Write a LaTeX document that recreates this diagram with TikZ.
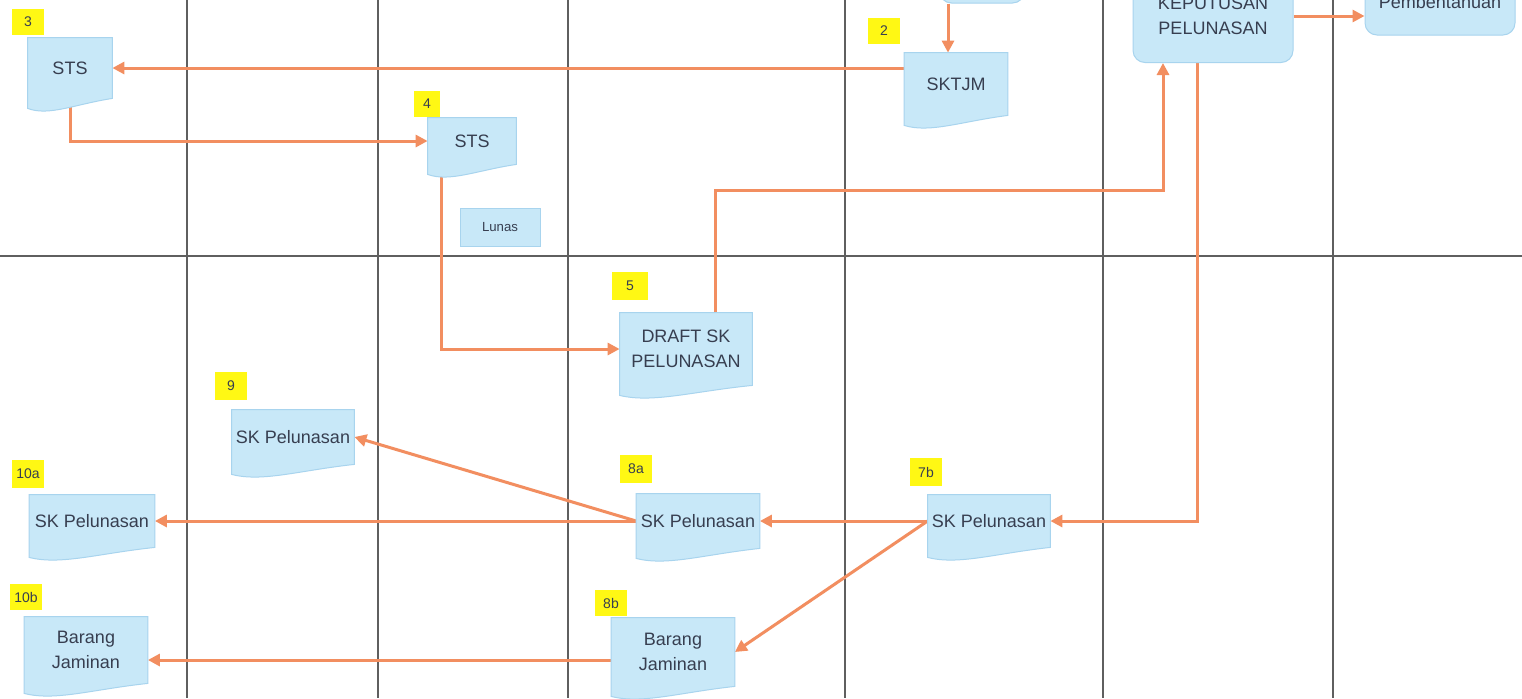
\documentclass[tikz,border=0pt]{standalone}
\usepackage{fontspec}
\setmainfont{Liberation Sans}
\usetikzlibrary{calc,arrows.meta}

\definecolor{docfill}{RGB}{200,232,248}
\definecolor{docline}{RGB}{168,212,238}
\definecolor{flowline}{RGB}{242,142,96}
\definecolor{gridline}{RGB}{95,95,95}
\definecolor{tagyellow}{RGB}{255,248,20}
\definecolor{doctext}{RGB}{55,62,80}

\pgfdeclarelayer{grid}
\pgfdeclarelayer{lines}
\pgfdeclarelayer{shapes}
\pgfsetlayers{grid,lines,shapes,main}

\tikzset{
  docnode/.style={inner sep=0pt, align=center, text=doctext, font=\fontsize{9}{12.5}\selectfont},
  docshape/.style={fill=docfill, draw=docline, line width=0.5pt},
  roundbox/.style={docnode, fill=docfill, draw=docline, line width=0.5pt, rounded corners=6pt},
  plainbox/.style={docnode, fill=docfill, draw=docline, line width=0.5pt},
  tag/.style={fill=tagyellow, inner sep=0pt, minimum width=16pt, minimum height=13pt, text=doctext, font=\fontsize{7}{8}\selectfont},
  flow/.style={draw=flowline, line width=1.5pt, -{Triangle[length=6pt,width=6pt]}},
  lane/.style={draw=gridline, line width=0.6pt},
}

% wavy bottom of a document box
\newcommand{\docwave}[1]{%
  \begin{pgfonlayer}{shapes}
    \path[docshape] (#1.north west) -- (#1.north east) -- (#1.south east)
      .. controls ($(#1.south east)!0.45!(#1.south west)+(0,-3pt)$) and ($(#1.south east)!0.75!(#1.south west)+(0,-9pt)$) .. ($(#1.south west)+(0,-5pt)$) -- cycle;
  \end{pgfonlayer}}

\begin{document}
\begin{tikzpicture}[x=0.5pt, y=-0.5pt]
  \useasboundingbox (0,0) rectangle (1522,698);
  \begin{pgfonlayer}{grid}
    \fill[white] (0,0) rectangle (1522,698);
    \foreach \gx in {187,378,568,845,1103,1333}
      \draw[lane] (\gx,0) -- (\gx,698);
    \draw[lane] (0,256) -- (1522,256);
  \end{pgfonlayer}

  % upper lane
  \node[roundbox, minimum width=42.5pt, minimum height=20pt] (topbox) at (982,-17) {};
  \node[roundbox, minimum width=80pt, minimum height=46.5pt] (kep) at (1213,16) {KEPUTUSAN\\PELUNASAN};
  \node[roundbox, minimum width=75pt, minimum height=33pt] (pemb) at (1440,2) {Pembentahuan};

  \node[docnode, minimum width=42pt, minimum height=30pt] (sts3) at (70,68) {STS};
  \docwave{sts3}
  \node[tag] (t3) at (28,22) {3};

  \node[docnode, minimum width=44pt, minimum height=23pt] (sts4) at (472,141) {STS};
  \docwave{sts4}
  \node[tag, minimum width=13pt] (t4) at (427,104) {4};

  \node[docnode, minimum width=51.5pt, minimum height=31pt] (sktjm) at (956,84) {SKTJM};
  \docwave{sktjm}
  \node[tag] (t2) at (884,31) {2};

  \node[plainbox, minimum width=40pt, minimum height=19pt, font=\fontsize{6.6}{8}\selectfont] (lunas) at (500,227) {Lunas};

  % lower lane
  \node[docnode, minimum width=66pt, minimum height=36pt] (draft) at (686,349) {DRAFT SK\\PELUNASAN};
  \docwave{draft}
  \node[tag, minimum width=18pt, minimum height=14pt] (t5) at (630,286) {5};

  \node[docnode, minimum width=61pt, minimum height=27pt] (sk9) at (293,437) {SK Pelunasan};
  \docwave{sk9}
  \node[tag, minimum height=14pt] (t9) at (231,386) {9};

  \node[docnode, minimum width=62.5pt, minimum height=26pt] (sk10a) at (92,521) {SK Pelunasan};
  \docwave{sk10a}
  \node[tag, minimum height=14pt] (t10a) at (28,474) {10a};

  \node[docnode, minimum width=61.5pt, minimum height=27pt] (sk8a) at (698,521) {SK Pelunasan};
  \docwave{sk8a}
  \node[tag, minimum height=14pt] (t8a) at (636,469) {8a};

  \node[docnode, minimum width=61pt, minimum height=26pt] (sk7b) at (989,521) {SK Pelunasan};
  \docwave{sk7b}
  \node[tag, minimum height=14pt] (t7b) at (926,472) {7b};

  \node[docnode, minimum width=61.5pt, minimum height=33pt] (bj10b) at (86,650) {Barang\\Jaminan};
  \docwave{bj10b}
  \node[tag] (t10b) at (26,597) {10b};

  \node[docnode, minimum width=61.5pt, minimum height=34pt] (bj8b) at (673,652) {Barang\\Jaminan};
  \docwave{bj8b}
  \node[tag] (t8b) at (611,603) {8b};

  \coordinate (bendr) at (1163,190);

  \begin{pgfonlayer}{lines}
    \draw[flow] (topbox.south -| 948,0) -- (sktjm.north -| 948,0);
    \draw[flow] (sktjm.west |- sts3.east) -- (sts3.east);
    \draw[flow] (sts3.south) |- (sts4.west);
    \draw[flow] ($(sts4.south west)!0.16!(sts4.south east)$) |- (draft.west);
    \draw[flow] ($(draft.north west)!0.72!(draft.north east)$) |- (bendr) -- (kep.south -| bendr);
    \draw[flow] (kep.east) -- (kep.east -| pemb.west);
    \draw[flow] (kep.south -| 1197,0) |- (sk7b.east);
    \draw[flow] (sk7b.west) -- (sk8a.east);
    \draw[flow] (sk7b.west) -- (bj8b.east);
    \draw[flow] (sk8a.west) -- (sk10a.east);
    \draw[flow] (sk8a.west) -- (sk9.east);
    \draw[flow] ($(bj8b.west)+(0,-4pt)$) -- ($(bj10b.east)+(0,-5pt)$);
  \end{pgfonlayer}
\end{tikzpicture}
\end{document}
